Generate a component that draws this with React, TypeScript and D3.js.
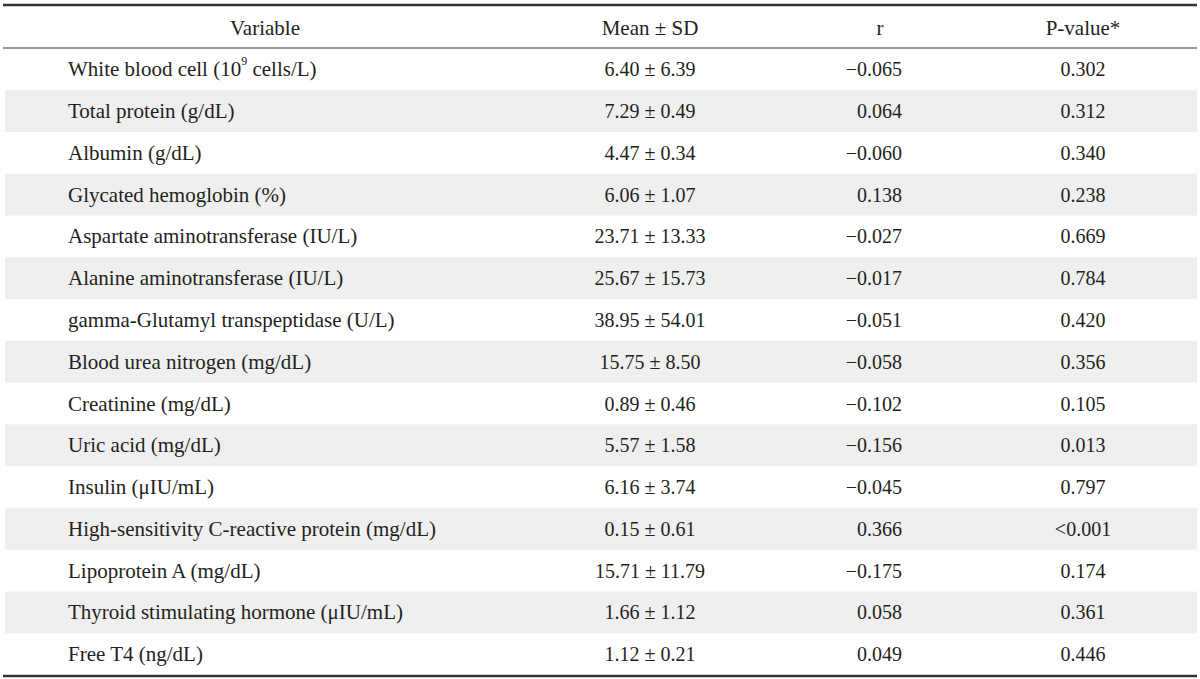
import React from "react";
import * as d3 from "d3";

const headers = ["Variable", "Mean ± SD", "r", "P-value*"];
const variables = [
  "White blood cell (10^9 cells/L)",
  "Total protein (g/dL)",
  "Albumin (g/dL)",
  "Glycated hemoglobin (%)",
  "Aspartate aminotransferase (IU/L)",
  "Alanine aminotransferase (IU/L)",
  "gamma-Glutamyl transpeptidase (U/L)",
  "Blood urea nitrogen (mg/dL)",
  "Creatinine (mg/dL)",
  "Uric acid (mg/dL)",
  "Insulin (μIU/mL)",
  "High-sensitivity C-reactive protein (mg/dL)",
  "Lipoprotein A (mg/dL)",
  "Thyroid stimulating hormone (μIU/mL)",
  "Free T4 (ng/dL)",
];
const means = [6.40, 7.29, 4.47, 6.06, 23.71, 25.67, 38.95, 15.75, 0.89, 5.57, 6.16, 0.15, 15.71, 1.66, 1.12];
const sds = [6.39, 0.49, 0.34, 1.07, 13.33, 15.73, 54.01, 8.50, 0.46, 1.58, 3.74, 0.61, 11.79, 1.12, 0.21];
const rValues = [-0.065, 0.064, -0.060, 0.138, -0.027, -0.017, -0.051, -0.058, -0.102, -0.156, -0.045, 0.366, -0.175, 0.058, 0.049];
const pValues = ["0.302", "0.312", "0.340", "0.238", "0.669", "0.784", "0.420", "0.356", "0.105", "0.013", "0.797", "<0.001", "0.174", "0.361", "0.446"];

const W = 1200;
const H = 679;
const FONT = "'Liberation Serif', 'Times New Roman', serif";
const TEXT = "#231f20";

function VarLabel({ s }: { s: string }) {
  const m = s.match(/^(.*)\^(\d+)(.*)$/);
  if (!m) return <>{s}</>;
  return (
    <>
      {m[1]}
      <tspan fontSize="12" dy="-8">{m[2]}</tspan>
      <tspan dy="8">{m[3]}</tspan>
    </>
  );
}

export default function App() {
  const rows = d3.scaleBand<number>().domain(d3.range(variables.length)).range([48.5, 675]).padding(0);
  const f2 = d3.format(".2f");
  const f3 = d3.format(".3f");
  const colX = { variable: 68, varHeader: 265, mean: 650, rEnd: 902, rHeader: 880, p: 1083 };
  const fsText = 21;
  const fsNum = 20;

  return (
    <svg width={W} height={H} style={{ position: "absolute", left: 0, top: 0, background: "#fff" }}>
      <rect x={0} y={0} width={W} height={H} fill="#fff" />
      {variables.map((_, i) =>
        i % 2 === 1 ? (
          <rect key={"bg" + i} x={5} y={rows(i)!} width={1192} height={rows.bandwidth()} fill="#efefef" />
        ) : null
      )}
      <line x1={3} x2={1197} y1={5} y2={5} stroke="#333" strokeWidth={2.5} />
      <line x1={3} x2={1197} y1={48} y2={48} stroke="#333" strokeWidth={1} />
      <line x1={3} x2={1197} y1={676} y2={676} stroke="#333" strokeWidth={2.5} />
      <g fontFamily={FONT} fill={TEXT}>
        <g fontSize={fsText}>
          <text x={colX.varHeader} y={28} textAnchor="middle" dominantBaseline="central">{headers[0]}</text>
          <text x={colX.mean} y={28} textAnchor="middle" dominantBaseline="central">{headers[1]}</text>
          <text x={colX.rHeader} y={28} textAnchor="middle" dominantBaseline="central">{headers[2]}</text>
          <text x={colX.p} y={28} textAnchor="middle" dominantBaseline="central">{headers[3]}</text>
        </g>
        {variables.map((v, i) => {
          const y = rows(i)! + rows.bandwidth() / 2;
          return (
            <g key={i}>
              <text x={colX.variable} y={y} fontSize={fsText} dominantBaseline="central"><VarLabel s={v} /></text>
              <text x={colX.mean} y={y} fontSize={fsNum} textAnchor="middle" dominantBaseline="central">
                {f2(means[i])} ± {f2(sds[i])}
              </text>
              <text x={colX.rEnd} y={y} fontSize={fsNum} textAnchor="end" dominantBaseline="central">{f3(rValues[i])}</text>
              <text x={colX.p} y={y} fontSize={fsNum} textAnchor="middle" dominantBaseline="central">{pValues[i]}</text>
            </g>
          );
        })}
      </g>
    </svg>
  );
}
